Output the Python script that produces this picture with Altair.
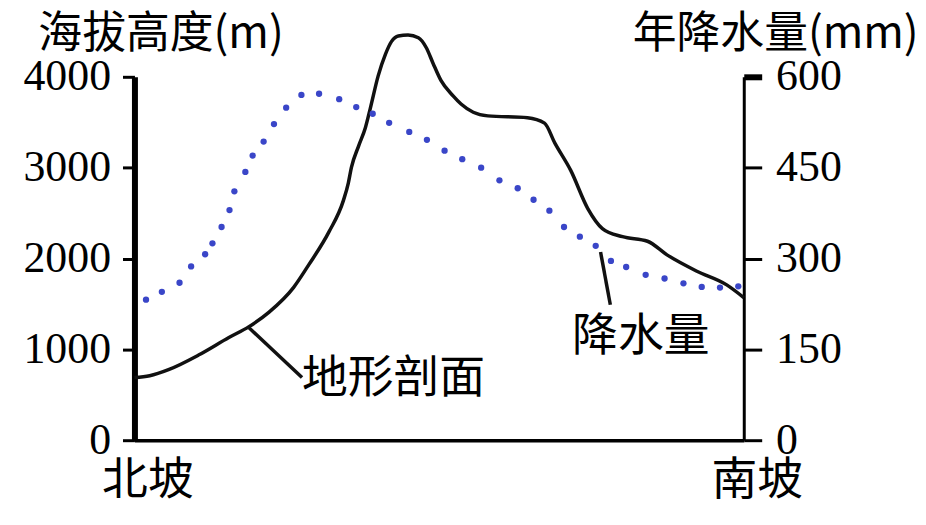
import altair as alt
import pandas as pd

# ---- data ----
terrain_dist = [0, 2.5, 5.7, 10.6, 15.5, 18.8, 22.1, 26.1, 28.6, 31.9, 34.3, 35.1, 35.6, 36.8,
                37.9, 38.7, 40.0, 41.2, 42.2, 43.3, 44.9, 46.6, 47.9, 49.0, 50.3, 52.3, 53.6,
                55.6, 58.0, 64.5, 67.3, 69.0, 71.6, 74.4, 76.8, 80.1, 84.2, 87.4, 92.3, 97.2, 100]
terrain_elev = [690, 710, 780, 940, 1130, 1250, 1410, 1680, 1930, 2290, 2640, 2830, 3000, 3240,
                3440, 3650, 4010, 4250, 4390, 4450, 4460, 4430, 4320, 4150, 3960, 3790, 3700,
                3610, 3570, 3550, 3490, 3270, 2970, 2550, 2330, 2240, 2190, 2040, 1860, 1710, 1570]

rain_dist = [1.9, 4.5, 7.4, 9.3, 11.6, 12.8, 14.3, 15.6, 16.4, 18.2, 19.4, 21.2, 22.9, 24.9,
             27.4, 30.3, 33.6, 36.4, 39.1, 41.8, 45.1, 48.0, 50.9, 53.8, 56.9, 59.9, 62.9,
             65.5, 68.1, 70.5, 73.1, 75.7, 78.2, 80.7, 83.9, 87.0, 90.1, 93.1, 96.1, 99.1]
rain_mm = [232, 245, 260, 287, 307, 325, 352, 380, 411, 443, 470, 493, 522, 549,
           570, 572, 563, 550, 539, 524, 509, 496, 478, 464, 450, 429, 416,
           397, 379, 352, 336, 321, 296, 286, 273, 267, 259, 253, 252, 254]

left_ticks = [0, 1000, 2000, 3000, 4000]
right_ticks = [0, 150, 300, 450, 600]
x_labels = ["北坡", "南坡"]
left_title = "海拔高度(m)"
right_title = "年降水量(mm)"

note_text = ["地形剖面", "降水量"]
note_dist = [27.5, 83.1]
note_elev = [669, 1140]
note_align = ["left", "center"]
leader_x1 = [18.8, 76.5]
leader_y1 = [1238, 2071]
leader_x2 = [27.5, 78.1]
leader_y2 = [690, 1491]

CJK = "Noto Sans CJK SC"
SERIF = "Liberation Serif"

terrain_df = pd.DataFrame({"d": terrain_dist, "elev": terrain_elev})
rain_df = pd.DataFrame({"d": rain_dist, "mm": rain_mm})
notes_df = pd.DataFrame({"d": note_dist, "elev": note_elev, "t": note_text, "a": note_align})
leader_df = pd.DataFrame({"d": leader_x1, "y1": leader_y1, "x2": leader_x2, "y2": leader_y2})

xscale = alt.Scale(domain=[0, 100], nice=False, zero=False)
lscale = alt.Scale(domain=[0, 4000], nice=False)
rscale = alt.Scale(domain=[0, 600], nice=False)

x_axis = alt.Axis(
    values=[0, 100], ticks=False, grid=False, domainColor="black", domainWidth=3.5,
    labelExpr=f"datum.value === 0 ? '{x_labels[0]}' : '{x_labels[1]}'",
    labelFont=CJK, labelFontSize=46, labelColor="black", labelPadding=19,
    labelFlush=False, labelOffset=13, title=None,
)

left_axis = alt.Axis(
    orient="left", values=left_ticks, format="d", grid=False, domainColor="black",
    domainWidth=6, tickColor="black", tickSize=12, tickWidth=3,
    labelFont=SERIF, labelFontSize=44, labelColor="black", labelPadding=12,
    labelFlush=False, labelBaseline="middle",
    title=left_title, titleFont=CJK, titleFontSize=44, titleFontWeight="normal",
    titleColor="black", titleAngle=0, titleAlign="left", titleBaseline="middle",
    titleX=-97, titleY=-42,
)

right_axis = alt.Axis(
    orient="right", values=right_ticks, format="d", grid=False, domainColor="black",
    domainWidth=3, tickColor="black", tickSize=18,
    tickWidth={"condition": {"test": "datum.value === 600", "value": 6}, "value": 3},
    labelFont=SERIF, labelFontSize=44, labelColor="black", labelPadding=14,
    labelFlush=False, labelBaseline="middle",
    title=right_title, titleFont=CJK, titleFontSize=44, titleFontWeight="normal",
    titleColor="black", titleAngle=0, titleAlign="left", titleBaseline="middle",
    titleX=-112, titleY=-42,
)

X = alt.X("d:Q", scale=xscale, axis=x_axis)

terrain = alt.Chart(terrain_df).mark_line(
    color="#111111", strokeWidth=3.5, interpolate="monotone"
).encode(
    x=X,
    y=alt.Y("elev:Q", scale=lscale, axis=left_axis),
)

leaders = alt.Chart(leader_df).mark_rule(color="#111111", strokeWidth=3.5).encode(
    x=X,
    x2="x2:Q",
    y=alt.Y("y1:Q", scale=lscale, axis=None),
    y2="y2:Q",
)

notes_left = alt.Chart(notes_df).transform_filter("datum.a === 'left'").mark_text(
    font=CJK, fontSize=46, color="black", align="left", baseline="middle"
).encode(
    x=X,
    y=alt.Y("elev:Q", scale=lscale, axis=None),
    text="t:N",
)
notes_center = alt.Chart(notes_df).transform_filter("datum.a === 'center'").mark_text(
    font=CJK, fontSize=46, color="black", align="center", baseline="middle"
).encode(
    x=X,
    y=alt.Y("elev:Q", scale=lscale, axis=None),
    text="t:N",
)

rain = alt.Chart(rain_df).mark_circle(color="#3a46c8", size=40, opacity=1).encode(
    x=X,
    y=alt.Y("mm:Q", scale=rscale, axis=right_axis),
)

chart = alt.layer(terrain, leaders, notes_left, notes_center, rain).resolve_scale(
    y="independent"
).properties(
    width=612, height=365,
    autosize=alt.AutoSizeParams(type="none"),
    padding={"left": 127, "top": 68, "right": 175, "bottom": 70},
    background="white",
).configure_view(stroke=None)

chart.save("out.html", embed_options={"renderer": "svg", "actions": False})
